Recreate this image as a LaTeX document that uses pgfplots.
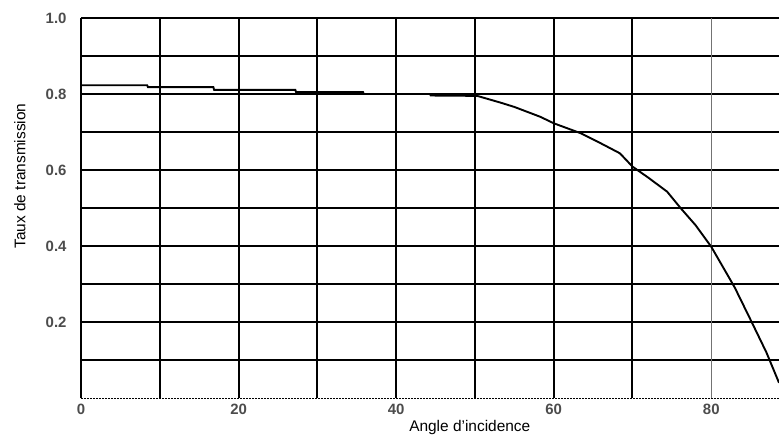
\documentclass[border=0pt]{standalone}
\usepackage{fontspec}
\setmainfont{Liberation Sans}
\usepackage{pgfplots}
\pgfplotsset{compat=1.18}
\usetikzlibrary{calc}

\begin{document}
\begin{tikzpicture}
\begin{axis}[
    name=plot,
    scale only axis,
    width=698bp, height=380bp,
    xmin=0, xmax=88.6,
    ymin=0, ymax=1,
    clip=false,
    axis line style={draw=none},
    xtick={0,20,40,60,80},
    minor xtick={0,10,20,30,40,50,60,70},
    ytick={0.2,0.4,0.6,0.8,1.0},
    minor ytick={0.1,0.2,0.3,0.4,0.5,0.6,0.7,0.8,0.9,1.0},
    yticklabel style={/pgf/number format/fixed, /pgf/number format/fixed zerofill, /pgf/number format/precision=1},
    /pgf/number format/assume math mode=true,
    grid=minor,
    minor grid style={draw=black, line width=2bp},
    major tick length=0pt, minor tick length=0pt,
    tick label style={font=\fontsize{15}{17}\selectfont\bfseries, text=black!70},
    yticklabel style={xshift=-11bp},
    xticklabel style={yshift=-3bp},
    xlabel={Angle d'incidence},
    ylabel={Taux de transmission},
    label style={font=\fontsize{15.5}{17}\selectfont},
    xlabel style={at={(axis description cs:0.557,0)}, anchor=north, yshift=-19bp},
    ylabel style={at={(axis description cs:0,0.584)}, anchor=south, yshift=52bp},
]
% grid line at 80, thinner and grey
\addplot[draw=black!55, line width=1bp] coordinates {(80,0) (80,1)};
% dashed bottom edge
\addplot[black, line width=0.8bp, dash pattern=on 2bp off 1bp] coordinates {(0,0) (88.6,0)};
\addplot[black, line width=1.9bp] coordinates {
    (0,0.823) (8.4,0.823) (8.5,0.818) (16.8,0.818) (16.9,0.811)
    (27.2,0.811) (27.3,0.805) (35.8,0.805) (35.9,0.800) (44.3,0.800)
    (44.4,0.796) (50.3,0.795) (53.3,0.777) (55,0.766) (58.3,0.740)
    (60,0.723) (63.4,0.697) (66,0.670) (68.4,0.644) (70,0.609)
    (72,0.580) (74.4,0.543) (76.1,0.500) (78,0.455) (80,0.398)
    (82.2,0.319) (83,0.290) (85.2,0.197) (87,0.120) (88.6,0.040)
};
\end{axis}
\pgfresetboundingbox
\path[use as bounding box] ($(plot.south west)+(-81bp,-41bp)$) rectangle ($(plot.north east)+(0,18bp)$);
\end{tikzpicture}
\end{document}
